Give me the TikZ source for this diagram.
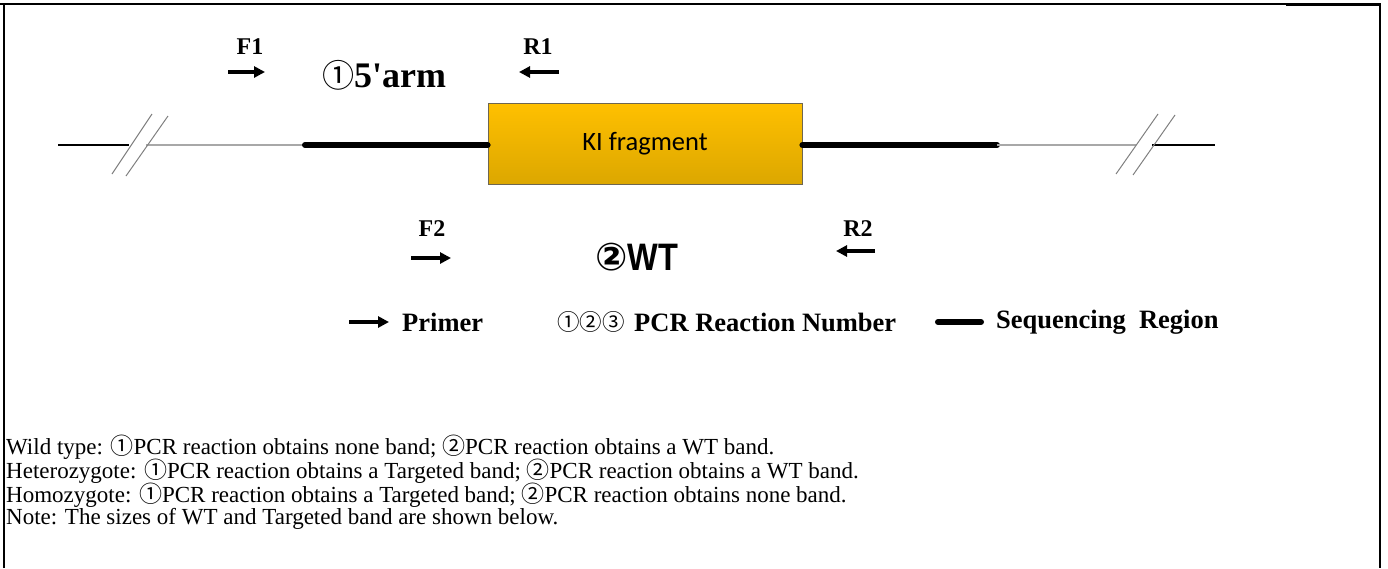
\documentclass[tikz,border=0pt]{standalone}
\usepackage{fontspec}
\setmainfont{Liberation Serif}
\newfontfamily\circfont{Noto Sans CJK SC}
\newfontfamily\calfont{Carlito}
\newfontfamily\sansb{Liberation Sans}
\newfontfamily\dejab{DejaVu Sans}
\usetikzlibrary{arrows.meta}
\definecolor{kitop}{HTML}{FFC000}
\definecolor{kibot}{HTML}{DCA700}
\definecolor{kiedge}{HTML}{6E6650}
\definecolor{thinline}{HTML}{A8A8A8}
\tikzset{
  primer/.style={line width=3.4pt,-{Triangle[length=11pt,width=11pt]}},
  lbl/.style={inner sep=0pt,font=\fontsize{24}{26}\selectfont\bfseries},
  legend/.style={inner sep=0pt,anchor=west,font=\fontsize{26.5}{28}\selectfont\bfseries},
  body/.style={inner sep=0pt,anchor=west,font=\fontsize{23}{24}\selectfont},
  seq/.style={line width=6pt,line cap=round},
  gline/.style={line width=2.2pt,thinline},
  bline/.style={line width=1.3pt,black},
  brk/.style={line width=1pt,gray},
}
\newcommand{\cd}[1]{{\circfont #1}}
\begin{document}
\begin{tikzpicture}[x=1pt,y=-1pt]
\useasboundingbox (0,0) rectangle (1388,568);
% frame
\draw[line width=2pt] (4,568) -- (4,4) -- (1380,4) -- (1380,568);
\draw[line width=2pt] (0,4) -- (4,4);
\draw[line width=3pt] (1286,4.5) -- (1380,4.5);
% main line coordinates
\coordinate (L0) at (58,145);
\coordinate (L1) at (129,145);
\coordinate (L2) at (146,145);
\coordinate (L3) at (305,145);
\coordinate (R3) at (997,145);
\coordinate (R2) at (1136,145);
\coordinate (R1) at (1152,145);
\coordinate (R0) at (1215,145);
\node[draw=kiedge,line width=0.8pt,top color=kitop,bottom color=kibot,
      minimum width=314pt,minimum height=81pt,inner sep=0pt,
      font=\calfont\fontsize{26.5}{28}\selectfont] (ki) at (645,143.5) {KI fragment};
\draw[bline] (L0) -- (L1);
\draw[gline] (L2) -- (L3);
\draw[seq] (L3) -- (ki.west |- L3);
\draw[seq] (ki.east |- R3) -- (R3);
\draw[gline] (R3) -- (R2);
\draw[bline] (R1) -- (R0);
% break marks
\draw[brk] (112,174) -- (152,114);
\draw[brk] (126,176) -- (168,116);
\draw[brk] (1116,174) -- (1158,114);
\draw[brk] (1133,175) -- (1175,115);
% primers
\node[lbl] (F1) at (250,47) {F1};
\node[lbl] (R1l) at (538,47) {R1};
\coordinate (f1a) at (228,72); \coordinate (f1b) at (265,72);
\coordinate (r1a) at (559,72); \coordinate (r1b) at (519,72);
\draw[primer] (f1a) -- (f1b);
\draw[primer] (r1a) -- (r1b);
\node[inner sep=0pt] (arm) at (384,75) {\resizebox{124pt}{!}{{\circfont\fontsize{25}{28}\selectfont ①}{\fontsize{28}{30}\selectfont\bfseries 5\textquotesingle arm}}};
\node[lbl] (F2) at (432,229) {F2};
\node[lbl] (R2l) at (858,229) {R2};
\coordinate (f2a) at (411,258); \coordinate (f2b) at (451,258);
\coordinate (r2a) at (875,251); \coordinate (r2b) at (836,251);
\draw[primer] (f2a) -- (f2b);
\draw[primer] (r2a) -- (r2b);
\node[inner sep=0pt] (wt) at (637,257) {\resizebox{83pt}{!}{{\dejab\bfseries\fontsize{25}{28}\selectfont ②}\scalebox{0.85}[1]{\sansb\bfseries\fontsize{25}{28}\selectfont WT}}};
% legend
\coordinate (lga) at (349,322); \coordinate (lgb) at (389,322);
\draw[primer] (lga) -- (lgb);
\node[legend] (prm) at (402,322) {Primer};
\node[legend,font=\circfont\fontsize{22.5}{26}\selectfont] (nums) at (557,322) {①②③};
\node[legend] (pcr) at (634,322) {PCR Reaction Number};
\coordinate (sqa) at (938,322); \coordinate (sqb) at (981,322);
\draw[seq] (sqa) -- (sqb);
\node[legend] (sqr) at (996,322) {Sequencing\ \ Region};
% body text
\node[body] (t1) at (6,447) {Wild type: \cd{①}PCR reaction obtains none band; \cd{②}PCR reaction obtains a WT band.};
\node[body] (t2) at (6,471) {Heterozygote: \cd{①}PCR reaction obtains a Targeted band; \cd{②}PCR reaction obtains a WT band.};
\node[body] (t3) at (6,495) {Homozygote: \cd{①}PCR reaction obtains a Targeted band; \cd{②}PCR reaction obtains none band.};
\node[body] (t4) at (6,519) {Note: The sizes of WT and Targeted band are shown below.};
\end{tikzpicture}
\end{document}
